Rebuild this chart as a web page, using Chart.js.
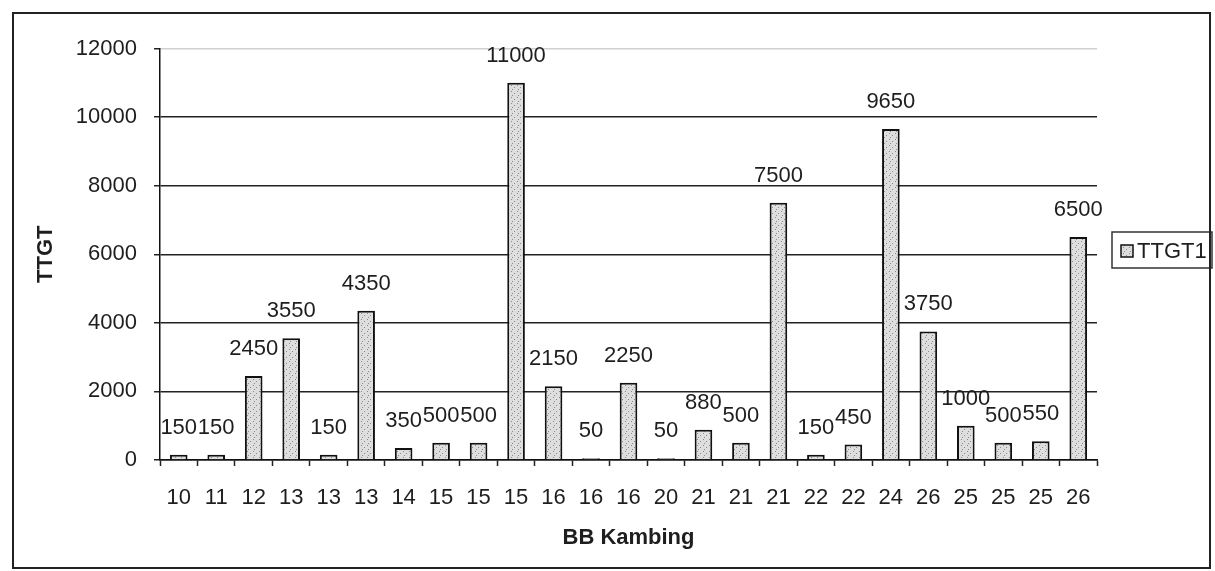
<!DOCTYPE html>
<html>
<head>
<meta charset="utf-8">
<script src="https://cdn.jsdelivr.net/npm/chart.js@4/dist/chart.umd.min.js"></script>
<style>
  html, body { margin: 0; padding: 0; background: #ffffff; }
  #wrap { width: 1215px; height: 571px; position: relative; }
</style>
</head>
<body>
<div id="wrap"><canvas id="c"></canvas></div>
<script>
const categories = ['10','11','12','13','13','13','14','15','15','15','16','16','16','20','21','21','21','22','22','24','26','25','25','25','26'];
const ttgt1 = [150,150,2450,3550,150,4350,350,500,500,11000,2150,50,2250,50,880,500,7500,150,450,9650,3750,1000,500,550,6500];
const seriesName = 'TTGT1';
const xTitle = 'BB Kambing';
const yTitle = 'TTGT';
const yMin = 0, yMax = 12000, yStep = 2000;

const FONT = '"Liberation Sans", Arial, sans-serif';
const INK = '#1e1e1e';

function makePattern() {
  const c = document.createElement('canvas');
  c.width = 6; c.height = 6;
  const x = c.getContext('2d');
  x.fillStyle = '#dedede';
  x.fillRect(0, 0, 6, 6);
  x.fillStyle = '#8c8c8c';
  x.fillRect(1, 1, 1, 1);
  x.fillRect(4, 3, 1, 1);
  x.fillRect(2, 5, 1, 1);
  return x.createPattern(c, 'repeat');
}
const barFill = makePattern();

const customPlugin = {
  id: 'custom',
  afterDatasetsDraw(chart) {
    const ctx = chart.ctx;
    const meta = chart.getDatasetMeta(0);
    const data = chart.data.datasets[0].data;
    ctx.save();
    ctx.font = '22px ' + FONT;
    ctx.fillStyle = INK;
    ctx.textAlign = 'center';
    ctx.textBaseline = 'middle';
    meta.data.forEach((bar, i) => {
      ctx.fillText(String(data[i]), bar.x, bar.y - 27);
    });
    ctx.restore();
  },
  afterDraw(chart) {
    const ctx = chart.ctx;
    ctx.save();
    // legend
    ctx.strokeStyle = '#333';
    ctx.lineWidth = 1.5;
    ctx.strokeRect(1112, 232, 100, 36);
    ctx.fillStyle = barFill;
    ctx.fillRect(1121, 245, 12, 12);
    ctx.strokeStyle = '#111';
    ctx.lineWidth = 1.5;
    ctx.strokeRect(1121, 245, 12, 12);
    ctx.fillStyle = INK;
    ctx.font = '22px ' + FONT;
    ctx.textAlign = 'left';
    ctx.textBaseline = 'middle';
    ctx.fillText(chart.data.datasets[0].label, 1137, 252);
    // outer frame
    ctx.strokeStyle = '#222';
    ctx.lineWidth = 2;
    ctx.strokeRect(13, 13, 1197, 555);
    ctx.restore();
  }
};

new Chart(document.getElementById('c'), {
  type: 'bar',
  data: {
    labels: categories,
    datasets: [{
      label: seriesName,
      data: ttgt1,
      backgroundColor: barFill,
      borderColor: '#111',
      borderWidth: 2,
      borderSkipped: 'bottom',
      categoryPercentage: 1.0,
      barPercentage: 0.47
    }]
  },
  options: {
    responsive: true,
    maintainAspectRatio: false,
    animation: false,
    layout: { padding: { top: 48.5, right: 118, bottom: 0, left: 0 } },
    plugins: {
      legend: { display: false },
      tooltip: { enabled: false }
    },
    scales: {
      x: {
        afterFit(scale) { scale.height = 111; },
        grid: {
          display: true,
          drawOnChartArea: false,
          drawTicks: true,
          tickLength: 6,
          tickColor: '#222',
          tickWidth: 1.5,
          offset: true
        },
        border: { display: true, color: '#111', width: 1.5 },
        ticks: {
          color: INK,
          font: { family: FONT, size: 22 },
          padding: 19,
          maxRotation: 0,
          autoSkip: false
        },
        title: {
          display: true,
          text: xTitle,
          color: INK,
          font: { family: FONT, size: 22, weight: 'bold' },
          padding: { top: 0, bottom: 20 }
        }
      },
      y: {
        min: yMin,
        max: yMax,
        afterFit(scale) { scale.width = 160; },
        grid: {
          color: (c) => (c.tick && c.tick.value === yMax) ? '#d0d0d0' : '#222',
          lineWidth: 1.5,
          drawTicks: true,
          tickLength: 6,
          tickColor: '#222'
        },
        border: { display: true, color: '#111', width: 1.5 },
        ticks: {
          stepSize: yStep,
          color: INK,
          font: { family: FONT, size: 22 },
          padding: 17,
          callback: (v) => String(v)
        },
        title: {
          display: true,
          text: yTitle,
          color: INK,
          font: { family: FONT, size: 22, weight: 'bold' },
          padding: { top: 33, bottom: 0 }
        }
      }
    }
  },
  plugins: [customPlugin]
});
</script>
</body>
</html>
